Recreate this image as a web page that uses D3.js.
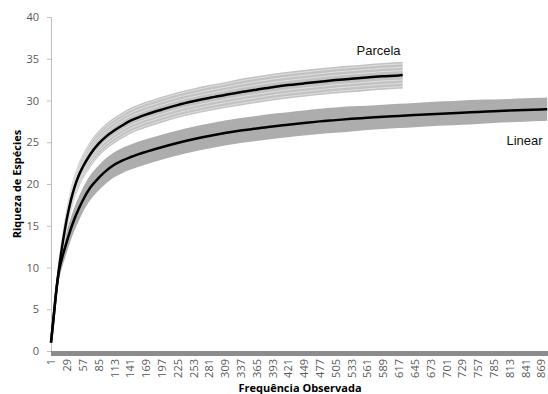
<!DOCTYPE html>
<html>
<head>
<meta charset="utf-8">
<script src="https://cdn.jsdelivr.net/npm/d3@7"></script>
<style>
  html, body { margin: 0; padding: 0; background: #fff; }
  svg { display: block; }
</style>
</head>
<body>
<svg id="chart" width="548" height="394"></svg>
<script>
// Rarefaction curves: species richness vs. observed frequency, with ±SD bands.
const parcelaFreq = [1, 5, 10, 15, 20, 25, 29, 36, 43, 50, 57, 71, 85, 99, 113, 127, 141, 155, 169, 197, 225, 253, 281, 309, 337, 365, 393, 421, 449, 477, 505, 533, 561, 589, 617, 624];
const parcelaValues = [1.0, 3.6, 7.0, 9.8, 12.2, 14.3, 15.8, 18.0, 19.7, 21.0, 22.0, 23.6, 24.8, 25.7, 26.4, 27.0, 27.55, 27.95, 28.3, 28.9, 29.45, 29.9, 30.3, 30.65, 31.0, 31.3, 31.6, 31.85, 32.05, 32.25, 32.45, 32.6, 32.75, 32.9, 33.0, 33.05];
const parcelaErr = [0, 0.5, 0.85, 1.05, 1.2, 1.3, 1.35, 1.4, 1.45, 1.5, 1.5, 1.55, 1.55, 1.55, 1.55, 1.55, 1.55, 1.55, 1.55, 1.55, 1.55, 1.55, 1.55, 1.55, 1.6, 1.6, 1.6, 1.6, 1.6, 1.6, 1.6, 1.6, 1.6, 1.6, 1.6, 1.6];

const linearFreq = [1, 5, 10, 15, 20, 25, 29, 36, 43, 50, 57, 71, 85, 99, 113, 127, 141, 155, 169, 197, 225, 253, 281, 309, 337, 365, 393, 421, 449, 477, 505, 533, 561, 589, 617, 645, 673, 701, 729, 757, 785, 813, 841, 869, 880];
const linearValues = [1.0, 3.6, 7.0, 9.5, 11.0, 12.2, 13.1, 14.6, 15.9, 17.0, 18.0, 19.6, 20.7, 21.6, 22.3, 22.8, 23.2, 23.55, 23.85, 24.4, 24.9, 25.35, 25.75, 26.1, 26.4, 26.65, 26.9, 27.1, 27.3, 27.5, 27.65, 27.8, 27.92, 28.04, 28.15, 28.26, 28.36, 28.45, 28.54, 28.63, 28.71, 28.79, 28.86, 28.93, 28.96];
const linearErr = [0, 0.5, 0.85, 1.05, 1.15, 1.25, 1.3, 1.35, 1.4, 1.45, 1.45, 1.5, 1.5, 1.5, 1.5, 1.5, 1.5, 1.5, 1.5, 1.5, 1.5, 1.5, 1.5, 1.5, 1.5, 1.5, 1.5, 1.5, 1.5, 1.5, 1.5, 1.5, 1.45, 1.45, 1.45, 1.45, 1.45, 1.45, 1.45, 1.45, 1.4, 1.4, 1.4, 1.4, 1.4];

const categoryCount = 880;
const xTickStep = 28;
const yTicks = [0, 5, 10, 15, 20, 25, 30, 35, 40];

const svg = d3.select("#chart");
const x = d3.scaleLinear().domain([1, categoryCount]).range([51, 547.2]);
const y = d3.scaleLinear().domain([0, 40]).range([351, 17]);

const font = "'Open Sans', 'DejaVu Sans', sans-serif";

function rows(freq, vals, err) {
  return freq.map((f, i) => ({ f, v: vals[i], e: err[i] }));
}
const parcela = rows(parcelaFreq, parcelaValues, parcelaErr);
const linear = rows(linearFreq, linearValues, linearErr);

const curve = d3.curveMonotoneX;
const band = d3.area().x(d => x(d.f)).y0(d => y(d.v - d.e)).y1(d => y(d.v + d.e)).curve(curve);
const offsetLine = k => d3.line().x(d => x(d.f)).y(d => y(d.v + d.e * k)).curve(curve);
const mainLine = d3.line().x(d => x(d.f)).y(d => y(d.v)).curve(curve);

// Y axis
const yAxis = svg.append("g")
  .attr("transform", `translate(${x(1)},0)`)
  .call(d3.axisLeft(y).tickValues(yTicks).tickSize(4).tickPadding(8));
yAxis.select(".domain").attr("stroke", "#bfbfbf");
yAxis.selectAll(".tick line").attr("stroke", "#bfbfbf");
yAxis.selectAll(".tick text").attr("fill", "#595959").style("font-family", font).style("font-size", "11px");

// X axis: one tick per category, labelled every 28
const xAxis = svg.append("g")
  .attr("transform", `translate(0,${y(0)})`)
  .call(d3.axisBottom(x)
    .tickValues(d3.range(1, categoryCount + 1))
    .tickSize(5)
    .tickFormat(d => (d - 1) % xTickStep === 0 ? String(d) : ""));
xAxis.select(".domain").attr("stroke", "#8c8c8c");
xAxis.selectAll(".tick line")
  .attr("stroke", "#8c8c8c").attr("stroke-width", 1)
  .attr("shape-rendering", "crispEdges");
xAxis.selectAll(".tick text")
  .attr("fill", "#595959")
  .style("font-family", font).style("font-size", "11px")
  .attr("text-anchor", "end")
  .attr("transform", "rotate(-90)")
  .attr("x", -8).attr("y", 0).attr("dy", "0.35em");

// Linear band
svg.append("path").datum(linear).attr("d", band).attr("fill", "#adadad");
// Parcela band with lighter striping
svg.append("path").datum(parcela).attr("d", band).attr("fill", "#c2c2c2");
[-0.85, -0.6, -0.35, 0.35, 0.6, 0.85].forEach(k => {
  svg.append("path").datum(parcela).attr("d", offsetLine(k))
    .attr("fill", "none").attr("stroke", "#e2e2e2").attr("stroke-width", 0.9);
});

// Mean curves
svg.append("path").datum(linear).attr("d", mainLine)
  .attr("fill", "none").attr("stroke", "#000").attr("stroke-width", 2.5);
svg.append("path").datum(parcela).attr("d", mainLine)
  .attr("fill", "none").attr("stroke", "#000").attr("stroke-width", 2.5);

// Series labels
svg.append("text").attr("x", 356.5).attr("y", 55)
  .style("font-family", "'Liberation Sans', Arial, sans-serif").style("font-size", "13px")
  .attr("fill", "#111").text("Parcela");
svg.append("text").attr("x", 506.5).attr("y", 145)
  .style("font-family", "'Liberation Sans', Arial, sans-serif").style("font-size", "13px")
  .attr("fill", "#111").text("Linear");

// Axis titles
svg.append("text")
  .attr("transform", `translate(20.5,${(y(0) + y(40)) / 2}) rotate(-90)`)
  .attr("text-anchor", "middle")
  .style("font-family", font).style("font-size", "11px").style("font-weight", "bold")
  .attr("fill", "#000").text("Riqueza de Espécies");
svg.append("text")
  .attr("x", 300).attr("y", 392)
  .attr("text-anchor", "middle")
  .style("font-family", font).style("font-size", "11px").style("font-weight", "bold")
  .attr("fill", "#000").text("Frequência Observada");
</script>
</body>
</html>
